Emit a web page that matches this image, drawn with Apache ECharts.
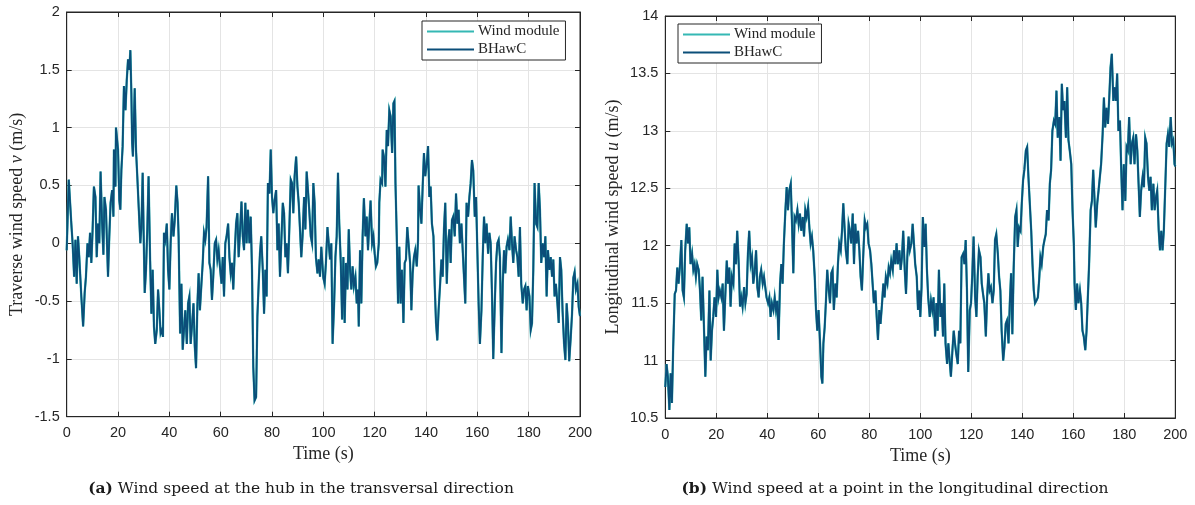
<!DOCTYPE html>
<html>
<head>
<meta charset="utf-8">
<script src="https://cdn.jsdelivr.net/npm/echarts/dist/echarts.min.js"></script>
<style>
html,body{margin:0;padding:0;background:#fff;}
#c{width:1195px;height:505px;}
</style>
</head>
<body>
<div id="c"></div>
<script>
// ---------- DATA (time in s, wind speed in m/s) ----------
const seriesNames = ['Wind module', 'BHawC'];
const xTicks = [0, 20, 40, 60, 80, 100, 120, 140, 160, 180, 200];
const yTicksLeft = [-1.5, -1, -0.5, 0, 0.5, 1, 1.5, 2];
const yTicksRight = [10.5, 11, 11.5, 12, 12.5, 13, 13.5, 14];

// (a) transverse wind speed v at hub
const transverseBHawC = [
[0,-0.06],[0.8,0.55],[1.3,0.56],[1.8,0.17],[2.3,0],[2.9,-0.29],[3.4,0.03],[3.9,-0.35],[4.4,0.06],[4.9,-0.12],
[5.7,-0.46],[6.4,-0.72],[7.0,-0.43],[7.5,-0.29],[8.1,0],[8.6,-0.12],[9.1,0.09],[9.6,-0.17],[10.1,0.12],[10.6,0.49],
[11.2,0.4],[11.7,-0.12],[12.2,0.17],[12.7,0],[13.2,0.62],[13.8,0.17],[14.3,-0.1],[14.7,0.4],[15.3,0.29],[16.1,-0.29],
[16.6,0.06],[17.1,0.35],[17.7,0.46],[18.2,0.23],[18.4,0.81],[19.0,0.49],[19.2,1.0],[20.0,0.81],[20.5,0.37],[20.9,0.29],
[21.3,0.63],[21.8,0.84],[22.3,1.36],[22.9,1.15],[23.4,1.41],[23.9,1.59],[24.4,1.5],[24.8,1.67],[25.2,1.30],[25.5,0.87],
[25.8,0.75],[26.5,1.34],[27.0,0.81],[27.5,0.58],[28.1,0.29],[28.7,0],[29.1,0.14],[29.6,0.61],[30.0,0.06],[30.4,-0.43],
[30.9,-0.23],[31.4,0.12],[31.9,0.58],[32.5,-0.14],[33.0,-0.61],[33.5,-0.23],[34.0,-0.72],[34.5,-0.87],[35.1,-0.75],[35.6,-0.40],
[36.1,-0.58],[36.6,-0.78],[37.1,-0.75],[37.5,-0.81],[37.9,0.09],[38.4,0.03],[39.0,0.17],[39.5,-0.23],[40.0,-0.40],[40.5,0],
[41.0,0.26],[41.6,0.06],[42.1,0.2],[42.7,0.5],[43.2,0.35],[43.6,0.06],[44.2,-0.78],[44.7,-0.35],[45.2,-0.92],[45.7,-0.75],
[46.2,-0.58],[46.8,-0.87],[47.3,-0.52],[47.8,-0.46],[48.3,-0.87],[48.8,-0.72],[49.4,-0.52],[49.9,-0.89],[50.4,-1.08],[50.9,-0.55],
[51.4,-0.26],[51.9,-0.58],[52.5,-0.35],[53.0,-0.17],[53.5,0.09],[54.0,0.03],[54.5,0.14],[55.1,0.58],[55.6,-0.17],[56.1,-0.23],
[56.6,-0.49],[57.1,-0.29],[57.7,0],[58.2,0.03],[58.7,-0.14],[59.2,-0.06],[59.7,-0.2],[60.3,-0.35],[60.8,-0.12],[61.3,-0.46],
[61.8,0],[62.3,0.06],[62.9,0.17],[63.4,-0.12],[63.9,-0.26],[64.4,-0.17],[64.9,-0.40],[65.5,-0.06],[66.0,0.17],[66.5,0.26],
[67.0,-0.12],[67.5,0.09],[68.1,0.36],[68.6,0.06],[69.1,-0.06],[69.6,0.35],[70.1,0],[70.6,0.29],[71.2,0],[71.7,0.23],
[72.2,-0.23],[72.7,-1.07],[73.2,-1.36],[73.8,-1.33],[74.3,-0.63],[74.8,-0.35],[75.3,-0.09],[75.8,0.06],[76.4,-0.23],[76.9,-0.61],
[77.4,-0.23],[77.9,-0.46],[78.4,0.52],[79.0,0.43],[79.5,0.81],[80.0,0.4],[80.5,0.26],[81.0,0.37],[81.6,0.46],[82.1,-0.06],
[82.6,0.17],[83.1,-0.29],[83.6,0],[84.2,0.35],[84.7,0.26],[85.2,-0.12],[85.7,0],[86.2,-0.26],[86.8,0.17],[87.3,0.55],
[87.8,0.52],[88.3,0.26],[88.8,0.58],[89.4,0.75],[89.9,0.49],[90.4,0.35],[90.9,0.12],[91.4,-0.12],[91.9,0.06],[92.5,0.4],
[93.0,0.12],[93.5,0.62],[94.0,0.46],[94.5,0.29],[95.1,0.06],[95.6,0],[96.1,0.52],[96.6,0.35],[97.1,-0.12],[97.7,-0.26],
[98.2,-0.14],[98.7,-0.29],[99.2,-0.03],[99.7,-0.2],
[100,-0.3],[100.5,-0.35],[101.0,-0.17],[101.6,0.14],[102.1,0],[102.6,-0.14],[103.1,0],[103.6,-0.87],[104.2,-0.52],[104.7,-0.12],
[105.2,0.06],[105.7,0.61],[106.2,0.17],[106.8,-0.17],[107.3,-0.66],[107.8,-0.12],[108.3,-0.69],[108.8,-0.17],[109.4,-0.40],[109.9,0.12],
[110.4,-0.23],[110.9,-0.40],[111.4,-0.2],[111.9,-0.37],[112.5,-0.29],[113.0,-0.52],[113.5,-0.40],[113.8,-0.72],[114.3,-0.06],[114.8,-0.52],
[115.3,0.06],[115.8,0.39],[116.4,0.06],[116.9,0.23],[117.4,-0.06],[117.9,0.17],[118.4,0.37],[119.0,0],[119.5,0.06],[120.0,-0.09],
[120.5,-0.2],[121.0,-0.17],[121.6,0],[121.8,0.35],[122.3,0.55],[122.9,0.52],[123.1,0.81],[123.6,0.75],[124.2,0.49],[124.7,0.98],
[125.2,0.84],[125.7,1.15],[126.2,1.10],[126.8,0.78],[127.3,1.21],[127.7,1.23],[128.1,0.52],[128.6,0.06],[129.1,-0.52],[129.6,-0.03],
[130.1,-0.52],[130.6,-0.23],[131.2,-0.69],[131.7,-0.17],[132.2,-0.14],[132.7,0.14],[133.2,0],[133.8,-0.17],[134.3,-0.58],[134.8,-0.26],
[135.3,-0.12],[135.8,-0.06],[136.4,-0.2],[136.9,0.03],[137.1,0.5],[137.7,0.29],[138.2,0.17],[138.7,0.49],[139.2,0.78],[139.7,0.58],
[140.3,0.69],[140.8,0.84],[141.3,0.4],[141.8,0.49],[142.3,0.17],[142.9,0.06],[143.4,-0.37],[143.9,-0.69],[144.4,-0.84],[144.9,-0.58],
[145.5,-0.35],[146.0,-0.14],[146.5,-0.29],[147.0,0.12],[147.5,0.35],[148.1,-0.35],[148.6,0],[149.1,0.12],[149.6,-0.17],[150.1,0.2],
[150.6,0.23],[151.2,0.06],[151.7,0.43],[152.2,0.17],[152.7,0.29],[153.2,0],[153.8,0.17],[154.3,-0.06],[154.8,-0.29],[155.3,-0.52],
[155.8,0.35],[156.4,0.23],[156.9,0.4],[157.4,0.52],[157.9,0.72],[158.4,0.63],[159.0,0.23],[159.5,0.4],[160.0,-0.06],[160.5,-0.52],
[161.0,-0.87],[161.6,-0.58],[162.1,-0.12],[162.6,0.23],[163.1,0],[163.6,0.17],[164.2,-0.09],[164.7,0.09],[165.2,0],[165.7,-0.43],
[166.2,-1.0],[166.8,-0.52],[167.3,-0.17],[167.8,0],[168.3,0.03],[168.8,-0.12],[169.4,-0.95],[169.9,-0.35],[170.4,-0.06],[170.9,-0.26],
[171.4,-0.03],[171.9,0.03],[172.5,-0.06],[173.0,0.23],[173.5,0],[174.0,-0.17],[174.5,0.06],[175.1,-0.06],[175.6,-0.12],[176.1,-0.29],
[176.6,0.14],[177.1,-0.35],[177.7,-0.52],[178.2,-0.40],[178.7,-0.37],[179.2,-0.58],[179.7,-0.37],[180.3,-0.46],[180.8,-0.75],[181.3,-0.69],
[181.8,-0.23],[182.3,0.52],[182.9,0.17],[183.4,0.14],[183.9,0.52],[184.4,0.29],[184.9,-0.17],[185.5,0],[186.0,-0.12],[186.5,0.06],
[187.0,-0.46],[187.5,-0.06],[188.1,-0.23],[188.6,-0.12],[189.1,-0.29],[189.6,-0.14],[190.1,-0.46],[190.6,-0.35],[191.2,-0.52],[191.7,-0.69],
[192.2,-0.12],[192.7,-0.23],[193.2,-0.58],[193.8,-0.87],[194.3,-1.01],[194.8,-0.52],[195.3,-0.69],[195.8,-1.02],[196.4,-0.81],[196.9,-0.61],
[197.4,-0.3],[197.9,-0.25],[198.4,-0.4],[199.0,-0.35],[199.5,-0.55],[200,-0.63]
];
// the wind module reproduces the BHawC signal (curves overlap)
const transverseWindModule = transverseBHawC;

// (b) longitudinal wind speed u at a point
const longitudinalBHawC = [
[0,10.77],[0.5,10.97],[1.0,10.86],[1.6,10.57],[2.1,10.89],[2.6,10.63],[3.1,11.12],[3.7,11.58],[4.2,11.61],[4.7,11.81],
[5.2,11.67],[5.8,11.84],[6.3,12.05],[6.8,11.61],[7.3,11.55],[7.8,11.96],[8.4,12.19],[8.9,12.02],[9.4,12.16],[9.9,11.84],
[10.5,11.93],[11.0,11.79],[11.5,11.84],[12.0,11.73],[12.5,11.84],[13.1,11.79],[13.6,11.61],[14.1,11.35],[14.6,11.73],[15.2,11.26],
[15.7,10.86],[16.2,11.21],[16.7,11.09],[17.3,11.61],[17.8,11.0],[18.3,11.26],[18.8,11.38],[19.3,11.55],[19.9,11.38],[20.4,11.79],
[20.9,11.55],[21.4,11.61],[22.0,11.55],[22.5,11.67],[23.0,11.26],[23.5,11.55],[24.1,11.87],[24.6,11.67],[25.1,11.81],[25.6,11.47],
[26.1,11.73],[26.7,11.67],[27.2,12.02],[27.7,11.84],[28.2,12.13],[28.8,11.84],[29.3,11.47],[29.8,11.55],[30.3,11.47],[30.9,11.64],
[31.4,11.5],[31.9,11.58],[32.4,11.93],[32.9,12.13],[33.5,11.84],[34.0,11.9],[34.5,11.67],[35.0,11.76],[35.6,11.96],[36.1,11.64],
[36.6,11.55],[37.1,11.73],[37.6,11.79],[38.2,11.67],[38.7,11.73],[39.2,11.64],[39.7,11.55],[40.3,11.5],[40.8,11.55],[41.3,11.38],
[41.8,11.5],[42.4,11.44],[42.9,11.55],[43.4,11.44],[43.9,11.52],[44.4,11.18],[45.0,11.67],[45.5,11.84],[46.0,11.67],[46.5,12.02],
[47.1,12.31],[47.6,12.51],[48.1,12.31],[48.6,12.48],[49.2,12.54],[49.7,12.19],[50.2,11.76],[50.7,12.25],[51.2,12.22],[51.8,12.31],
[52.3,12.19],[52.8,12.28],[53.3,12.13],[53.9,12.25],[54.4,12.08],[54.9,12.31],[55.4,12.25],[56.0,12.34],[56.5,12.16],[57.0,12.02],
[57.5,12.08],[58.0,11.96],[58.6,11.73],[59.1,11.44],[59.6,11.26],[60.1,11.44],[60.7,11.15],[61.2,10.86],[61.6,10.8],[62.0,11.15],
[62.5,11.29],[63.0,11.52],[63.5,11.79],[64.1,11.61],[64.6,11.5],[65.1,11.76],[65.6,11.79],[66.1,11.44],[66.7,11.67],[67.2,11.55],
[67.7,11.84],[68.2,12.02],[68.8,11.96],[69.3,12.13],[69.8,12.37],[70.3,12.16],[70.8,11.96],[71.4,11.84],[71.9,12.19],[72.4,12.13],
[72.9,12.02],[73.5,12.28],[74.0,11.84],[74.5,12.19],[75.0,12.02],[75.6,12.13],[76.1,11.96],[76.6,11.73],[77.1,11.61],[77.6,11.9],
[78.2,12.22],[78.7,12.16],[79.2,12.19],[79.7,12.02],[80.3,11.96],[80.8,11.84],[81.3,11.67],[81.8,11.5],[82.4,11.61],[82.9,11.38],
[83.4,11.18],[83.9,11.44],[84.4,11.32],[85.0,11.5],[85.5,11.67],[86.0,11.55],[86.5,11.73],[87.1,11.67],[87.6,11.81],[88.1,11.76],
[88.6,11.87],[89.2,11.79],[89.7,11.96],[90.2,11.84],[90.7,12.02],[91.2,11.84],[91.8,11.96],[92.3,11.79],[92.8,11.9],[93.3,12.13],
[93.9,11.79],[94.4,11.58],[94.9,11.9],[95.4,12.08],[95.9,11.96],[96.5,12.02],[97.0,12.19],[97.5,12.02],[98.0,11.84],[98.6,11.73],
[99.1,11.44],[99.6,11.61],
[100,11.38],[100.5,11.64],[101.0,12.25],[101.6,11.99],[102.1,12.19],[102.6,11.79],[103.1,11.55],[103.7,11.38],[104.2,11.52],[104.7,11.44],
[105.2,11.55],[105.8,11.21],[106.3,11.5],[106.8,11.26],[107.3,11.79],[107.9,11.38],[108.4,11.5],[108.9,11.21],[109.4,11.67],[109.9,11.15],
[110.5,10.97],[111.0,11.15],[111.5,11.0],[112.0,10.86],[112.6,11.09],[113.1,11.26],[113.6,11.15],[114.1,11.06],[114.7,10.97],[115.2,11.26],
[115.7,11.15],[116.2,11.9],[116.8,11.93],[117.3,11.84],[117.8,12.05],[118.3,11.61],[118.8,10.9],[119.4,11.44],[119.9,11.5],[120.4,11.76],
[120.9,12.08],[121.5,11.55],[122.0,11.38],[122.5,11.73],[123.0,11.96],[123.6,11.9],[124.1,11.67],[124.6,11.58],[125.1,11.5],[125.7,11.21],
[126.2,11.55],[126.7,11.76],[127.2,11.61],[127.7,11.64],[128.3,11.5],[128.8,11.61],[129.3,12.05],[129.8,12.1],[130.4,11.93],[130.9,11.73],
[131.4,11.61],[131.9,11.26],[132.5,11.0],[133.0,11.12],[133.5,11.32],[134.0,11.35],[134.6,11.15],[135.1,11.5],[135.6,11.76],[136.1,11.23],
[136.6,11.79],[137.2,12.25],[137.7,12.31],[138.2,11.99],[138.7,12.16],[139.3,12.13],[139.8,12.37],[140.3,12.57],[140.8,12.66],[141.4,12.83],
[141.9,12.86],[142.4,12.6],[142.9,12.6],[143.5,12.13],[144.0,11.84],[144.5,11.61],[145.0,11.5],[145.5,11.52],[146.1,11.55],[146.6,11.7],
[147.1,11.9],[147.6,11.84],[148.2,11.99],[148.7,12.05],[149.2,12.1],[149.7,12.31],[150.3,12.22],[150.8,12.54],[151.3,12.66],[151.8,13.0],
[152.4,13.09],[152.9,13.06],[153.4,13.35],[153.9,12.94],[154.5,13.12],[155.0,12.74],[155.5,13.41],[156.0,13.18],[156.5,13.26],[157.1,12.94],
[157.6,13.38],[158.1,12.92],[158.6,12.83],[159.2,12.71],[159.7,12.31],[160.2,12.02],[160.5,11.67],[161.0,11.44],[161.5,11.67],[162.0,11.5],
[162.6,11.61],[163.1,11.5],[163.6,11.26],[164.1,11.21],[164.7,11.09],[165.2,11.26],[165.7,11.55],[166.2,11.84],[166.8,12.31],[167.3,12.39],
[167.8,12.66],[168.3,12.42],[168.8,12.16],[169.4,12.37],[169.9,12.48],[170.4,12.48],[170.9,12.71],[171.5,12.97],[172.0,13.29],[172.5,13.03],
[173.0,13.2],[173.6,13.06],[174.1,13.29],[174.6,13.55],[175.1,13.67],[175.7,13.26],[176.2,13.38],[176.7,13.26],[177.2,13.5],[177.7,13.0],
[178.3,13.09],[178.8,12.66],[179.3,12.31],[179.8,12.71],[180.4,12.39],[180.9,12.86],[181.4,12.83],[181.9,13.12],[182.5,12.71],[183.0,12.89],
[183.5,12.94],[184.0,12.71],[184.6,12.97],[185.1,12.83],[185.6,12.54],[186.1,12.25],[186.6,12.48],[187.2,12.6],[187.7,12.51],[188.2,12.94],
[188.7,12.89],[189.3,12.6],[189.8,12.48],[190.3,12.6],[190.8,12.31],[191.4,12.54],[191.9,12.31],[192.4,12.42],[192.9,12.48],[193.5,12.13],
[194.0,11.96],[194.5,12.13],[195.0,11.96],[195.5,12.13],[196.1,12.54],[196.6,12.89],[197.1,12.97],[197.6,12.86],[198.2,13.12],[198.7,12.89],
[199.2,12.92],[199.7,12.71],[200,12.69]
];
const longitudinalWindModule = longitudinalBHawC;

const captionA = ['(a)', 'Wind speed at the hub in the transversal direction'];
const captionB = ['(b)', 'Wind speed at a point in the longitudinal direction'];

// ---------- STYLE ----------
const COL_WIND = '#35b8b4';
const COL_BHAWC = '#0b4e79';
const AX = '#262626';
const GRIDC = '#e4e4e4';
const SANS = '"Liberation Sans", Arial, sans-serif';
const SERIF = '"Liberation Serif", "Times New Roman", serif';
const CAPSERIF = '"DejaVu Serif", serif';

function xAxes(grid, name) {
  return [
    { gridIndex: grid, type: 'value', min: xTicks[0], max: xTicks[xTicks.length-1], interval: 20,
      axisLine: { show: true, onZero: false, lineStyle: { color: AX, width: 1 } },
      axisTick: { show: true, inside: true, length: 5, lineStyle: { color: AX } },
      axisLabel: { color: AX, fontFamily: SANS, fontSize: 14.5, margin: 9 },
      splitLine: { show: true, lineStyle: { color: GRIDC, width: 1 } },
      name: name, nameLocation: 'middle', nameGap: 28,
      nameTextStyle: { color: AX, fontFamily: SERIF, fontSize: 18 } },
    { gridIndex: grid, type: 'value', position: 'top', min: xTicks[0], max: xTicks[xTicks.length-1], interval: 20,
      axisLine: { show: true, onZero: false, lineStyle: { color: AX, width: 1 } },
      axisTick: { show: true, inside: true, length: 5, lineStyle: { color: AX } },
      axisLabel: { show: false }, splitLine: { show: false } }
  ];
}
function yAxes(grid, ticks, name, gap) {
  return [
    { gridIndex: grid, type: 'value', min: ticks[0], max: ticks[ticks.length-1], interval: 0.5,
      axisLine: { show: true, onZero: false, lineStyle: { color: AX, width: 1 } },
      axisTick: { show: true, inside: true, length: 5, lineStyle: { color: AX } },
      axisLabel: { color: AX, fontFamily: SANS, fontSize: 14.5, margin: 7 },
      splitLine: { show: true, lineStyle: { color: GRIDC, width: 1 } },
      name: name, nameLocation: 'middle', nameGap: gap,
      nameTextStyle: { color: AX, fontFamily: SERIF, fontSize: 18,
        rich: { i: { fontStyle: 'italic', fontFamily: SERIF, fontSize: 18, color: AX } } } },
    { gridIndex: grid, type: 'value', position: 'right', min: ticks[0], max: ticks[ticks.length-1], interval: 0.5,
      axisLine: { show: true, onZero: false, lineStyle: { color: AX, width: 1 } },
      axisTick: { show: true, inside: true, length: 5, lineStyle: { color: AX } },
      axisLabel: { show: false }, splitLine: { show: false } }
  ];
}
function legendAt(left, top) {
  return {
    data: seriesNames, left: left, top: top, orient: 'vertical',
    icon: 'rect', itemWidth: 47, itemHeight: 2, itemGap: 3,
    padding: [3, 6, 3, 5], borderColor: AX, borderWidth: 1, backgroundColor: '#fff',
    selectedMode: false,
    textStyle: { color: AX, fontFamily: SERIF, fontSize: 15, padding: [0,0,0,-1] }
  };
}
function line(name, xi, yi, data, color, width, z) {
  return { name: name, type: 'line', xAxisIndex: xi, yAxisIndex: yi, data: data,
    showSymbol: false, symbol: 'none', color: color, z: z,
    lineStyle: { color: color, width: width, join: 'miter' }, animation: false };
}

const chart = echarts.init(document.getElementById('c'), null, { renderer: 'canvas' });
chart.setOption({
  animation: false,
  backgroundColor: '#ffffff',
  grid: [
    { left: 66.7, top: 12, width: 513.3, height: 404.7, containLabel: false,
      show: true, borderColor: AX, borderWidth: 1, backgroundColor: 'transparent' },
    { left: 665.3, top: 16, width: 510, height: 402, containLabel: false,
      show: true, borderColor: AX, borderWidth: 1, backgroundColor: 'transparent' }
  ],
  xAxis: [...xAxes(0, 'Time (s)'), ...xAxes(1, 'Time (s)')],
  yAxis: [...yAxes(0, yTicksLeft, 'Traverse wind speed {i|v} (m/s)', 40),
          ...yAxes(1, yTicksRight, 'Longitudinal wind speed {i|u} (m/s)', 43)],
  legend: [legendAt(422, 21), legendAt(678, 24)],
  series: [
    line(seriesNames[0], 0, 0, transverseWindModule, COL_WIND, 2.3, 2),
    line(seriesNames[1], 0, 0, transverseBHawC, COL_BHAWC, 1.8, 3),
    line(seriesNames[0], 2, 2, longitudinalWindModule, COL_WIND, 2.3, 2),
    line(seriesNames[1], 2, 2, longitudinalBHawC, COL_BHAWC, 1.8, 3)
  ],
  graphic: [
    { type: 'text', x: 301, y: 489, style: {
        text: '{b|' + captionA[0] + '} ' + captionA[1], align: 'center', verticalAlign: 'middle',
        fill: '#1a1a1a', font: '15.5px ' + CAPSERIF,
        rich: { b: { fontWeight: 'bold', fontFamily: CAPSERIF, fontSize: 15.5, fill: '#1a1a1a' } } } },
    { type: 'text', x: 895, y: 489, style: {
        text: '{b|' + captionB[0] + '} ' + captionB[1], align: 'center', verticalAlign: 'middle',
        fill: '#1a1a1a', font: '15.5px ' + CAPSERIF,
        rich: { b: { fontWeight: 'bold', fontFamily: CAPSERIF, fontSize: 15.5, fill: '#1a1a1a' } } } }
  ]
});
</script>
</body>
</html>
